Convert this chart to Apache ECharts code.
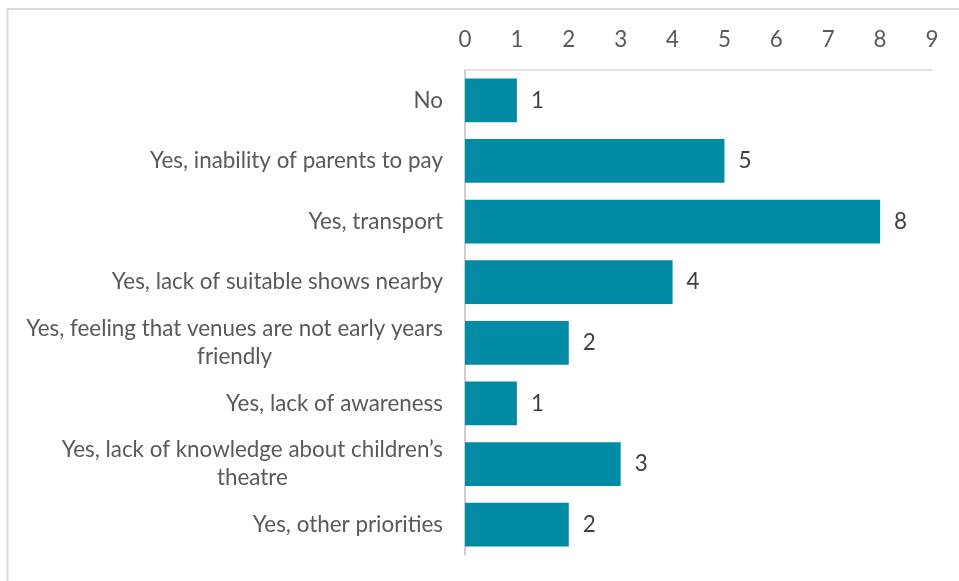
<!DOCTYPE html>
<html>
<head>
<meta charset="utf-8">
<script src="https://cdn.jsdelivr.net/npm/echarts@6/dist/echarts.min.js"></script>
<style>
html,body{margin:0;padding:0;background:#fff;}
#chart{width:959px;height:581px;}
</style>
</head>
<body>
<div id="chart"></div>
<script>
const categories = [
  "No",
  "Yes, inability of parents to pay",
  "Yes, transport",
  "Yes, lack of suitable shows nearby",
  "Yes, feeling that venues are not early years\nfriendly",
  "Yes, lack of awareness",
  "Yes, lack of knowledge about children\u2019s\ntheatre",
  "Yes, other priorities"
];
const values = [1, 5, 8, 4, 2, 1, 3, 2];
const xTicks = { min: 0, max: 9, interval: 1 };

const FONT = 'Lato';
const FS = 22.4;
const chart = echarts.init(document.getElementById('chart'));
chart.setOption({
  animation: false,
  backgroundColor: '#ffffff',
  graphic: [{
    type: 'rect',
    shape: { x: 7.5, y: 9, width: 1200, height: 1200 },
    style: { fill: 'none', stroke: '#d9d9d9', lineWidth: 2 },
    silent: true
  }],
  grid: { left: 465, right: 27, top: 70, bottom: 26, containLabel: false },
  xAxis: {
    type: 'value',
    position: 'top',
    min: xTicks.min, max: xTicks.max, interval: xTicks.interval,
    axisLine: { show: true, lineStyle: { color: '#d9d9d9', width: 1.5 } },
    axisTick: { show: false },
    splitLine: { show: false },
    axisLabel: { color: '#595959', fontFamily: FONT, fontSize: FS, margin: 19 }
  },
  yAxis: {
    type: 'category',
    inverse: true,
    data: categories,
    axisLine: { show: true, lineStyle: { color: '#bfbfbf', width: 1.5 } },
    axisTick: { show: false },
    axisLabel: {
      color: '#595959', fontFamily: FONT, fontSize: FS, margin: 22, lineHeight: 28, align: 'right',
      formatter: function (v) {
        return v.split('\n').map(function (l) { return '{c|' + l + '}'; }).join('\n');
      },
      rich: {
        c: { align: 'center', color: '#595959', fontFamily: FONT, fontSize: FS, lineHeight: 28 }
      }
    }
  },
  series: [{
    type: 'bar',
    data: values,
    barCategoryGap: '28%',
    itemStyle: { color: '#028ba5' },
    label: { show: true, position: 'right', distance: 14, color: '#404040', fontFamily: FONT, fontSize: FS }
  }]
});
</script>
</body>
</html>
